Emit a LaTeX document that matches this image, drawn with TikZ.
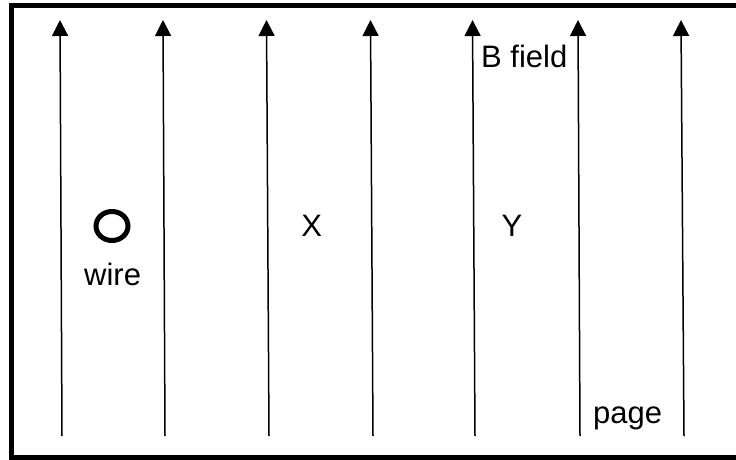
\documentclass[tikz,border=0pt]{standalone}
\usepackage{fontspec}
\setmainfont{Liberation Sans}
\usetikzlibrary{arrows.meta}
\begin{document}
\begin{tikzpicture}[x=1pt,y=-1pt,
  fieldline/.style={line width=1.5pt,-{Triangle[width=16pt,length=16pt]}},
  lbl/.style={inner sep=0pt,font=\fontsize{31}{37}\selectfont},
  frame/.style={line width=5pt}]
\useasboundingbox (0,0) rectangle (736,459);
\begin{scope}
\clip (0,0) rectangle (736,459);
\draw[frame] (11.5,5.5) rectangle (760,457.5);
\end{scope}
% field lines
\foreach \i/\bx/\tx in {1/62/60,2/165/163,3/269/266.5,4/373/370.5,5/475/472.5,6/580/578,7/684/681}{
  \coordinate (b\i) at (\bx,436);
  \coordinate (t\i) at (\tx,20);
  \draw[fieldline] (b\i) -- (t\i);
}
% wire
\draw[line width=5pt] (112,226) ellipse [x radius=16, y radius=14.5];
\node[lbl,anchor=base west] (wire) at (84,285) {wire};
\node[lbl,anchor=base] (X) at (311.7,236.7) {X};
\node[lbl,anchor=base] (Y) at (512,236.7) {Y};
\node[lbl,anchor=base west] (bfield) at (481,67) {B field};
\node[lbl,anchor=base west] (page) at (593,423) {page};
\end{tikzpicture}
\end{document}
